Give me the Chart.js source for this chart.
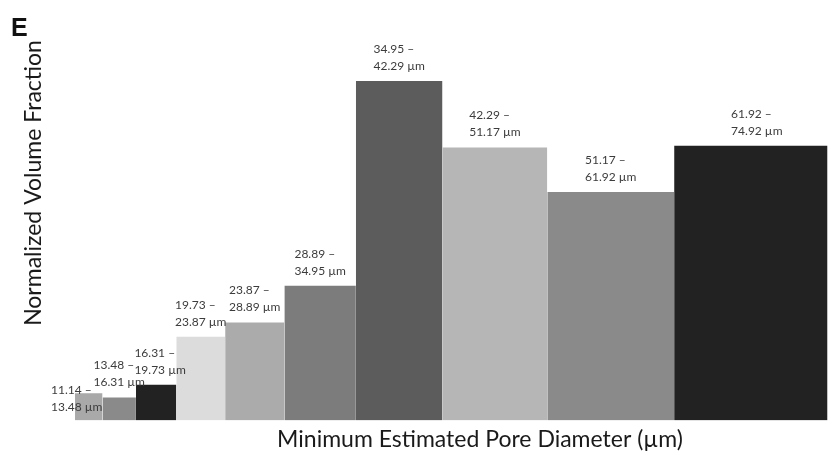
<!DOCTYPE html>
<html>
<head>
<meta charset="utf-8">
<script src="https://cdn.jsdelivr.net/npm/chart.js@4.4.1/dist/chart.umd.min.js"></script>
<style>
  html, body { margin: 0; padding: 0; background: #ffffff; }
  canvas { display: block; }
</style>
</head>
<body>
<canvas id="chart" width="828" height="452"></canvas>
<script>
// Pore-size bins (µm) and the normalized volume fraction in each bin
const binLower = [11.14, 13.48, 16.31, 19.73, 23.87, 28.89, 34.95, 42.29, 51.17, 61.92];
const binUpper = [13.48, 16.31, 19.73, 23.87, 28.89, 34.95, 42.29, 51.17, 61.92, 74.92];
const volumeFraction = [0.080, 0.068, 0.105, 0.247, 0.289, 0.397, 1.000, 0.804, 0.673, 0.809];

// Grey shade for each bin
const binColors = ['#a9a9a9', '#8a8a8a', '#222222', '#dcdcdc', '#ababab',
                   '#7c7c7c', '#5c5c5c', '#b6b6b6', '#8a8a8a', '#222222'];
// Nudge (dx, dy in px) of each range label from its default spot above the bar
const labelShift = [[-12, 29], [0, 0], [4, 0], [0, 0], [0, 0],
                    [0, 0], [0, 0], [0, 0], [0, 0], [6, 0]];

const panelLetter = 'E';
const xTitle = 'Minimum Estimated Pore Diameter (\u00b5m)';
const yTitle = 'Normalized Volume Fraction';

const FONT = 'Lato, "Open Sans", "DejaVu Sans", sans-serif';

// One filled step per bin: flat top from lower to upper edge, filled down to zero
const datasets = binLower.map((lo, i) => ({
  data: [{ x: lo, y: volumeFraction[i] }, { x: binUpper[i], y: volumeFraction[i] }],
  backgroundColor: binColors[i],
  borderColor: binColors[i],
  borderWidth: 0,
  pointRadius: 0,
  tension: 0,
  fill: 'origin'
}));

const fmt = v => v.toFixed(2);

const textPlugin = {
  id: 'rangeLabels',
  afterDatasetsDraw(chart) {
    const ctx = chart.ctx;
    const xs = chart.scales.x, ys = chart.scales.y;
    ctx.save();
    ctx.font = '12px ' + FONT;
    ctx.fillStyle = '#3c3c3c';
    ctx.textAlign = 'left';
    ctx.textBaseline = 'middle';
    binLower.forEach((lo, i) => {
      const l1 = fmt(lo) + ' \u2013';
      const l2 = fmt(binUpper[i]) + ' \u00b5m';
      const w = Math.max(ctx.measureText(l1).width, ctx.measureText(l2).width);
      const cx = (xs.getPixelForValue(lo) + xs.getPixelForValue(binUpper[i])) / 2;
      const top = ys.getPixelForValue(volumeFraction[i]);
      const x0 = cx - w / 2 + labelShift[i][0];
      const y2 = top - 15 + labelShift[i][1];
      ctx.fillText(l1, x0, y2 - 17);
      ctx.fillText(l2, x0, y2);
    });
    ctx.restore();
  },
  afterDraw(chart) {
    const ctx = chart.ctx;
    ctx.save();
    ctx.fillStyle = '#111111';
    ctx.font = 'bold 25px "Liberation Sans", Arial, sans-serif';
    ctx.textAlign = 'left';
    ctx.textBaseline = 'alphabetic';
    ctx.fillText(panelLetter, 11, 36);

    ctx.fillStyle = '#1a1a1a';
    ctx.font = '23px ' + FONT;
    ctx.textAlign = 'center';
    ctx.fillText(xTitle, 480, 447);

    ctx.translate(41, 183);
    ctx.rotate(-Math.PI / 2);
    ctx.fillText(yTitle, 0, 0);
    ctx.restore();
  }
};

new Chart(document.getElementById('chart'), {
  type: 'line',
  data: { datasets },
  options: {
    responsive: false,
    devicePixelRatio: 1,
    animation: false,
    layout: { padding: { left: 0, right: 0, top: 0, bottom: 31.5 } },
    plugins: { legend: { display: false }, tooltip: { enabled: false } },
    scales: {
      x: { type: 'linear', min: 4.79, max: 74.96, display: false },
      y: { type: 'linear', min: 0, max: 1.2386, display: false }
    }
  },
  plugins: [textPlugin]
});
</script>
</body>
</html>
